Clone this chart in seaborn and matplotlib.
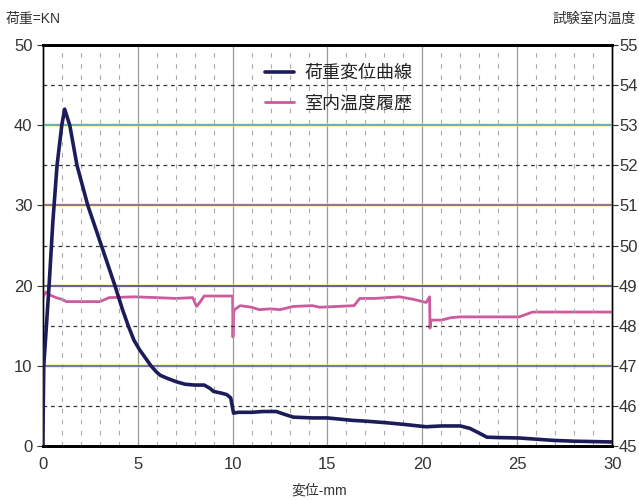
import matplotlib
matplotlib.use("Agg")
import matplotlib.pyplot as plt
import numpy as np
import pandas as pd
import seaborn as sns
from matplotlib.ticker import MultipleLocator

sns.set_style('white')
plt.rcParams['font.family'] = ['Liberation Sans', 'Noto Sans CJK JP', 'DejaVu Sans']

# 荷重変位曲線 (変位 mm, 荷重 kN)
disp = [0, 0.05, 0.33, 0.53, 0.75, 1.0, 1.15, 1.42, 1.8, 2.37, 2.8, 3.3, 3.8, 4.2,
        4.5, 4.8, 5.1, 5.4, 5.7, 6.0, 6.2, 6.6, 7.05, 7.5, 8.0, 8.5, 8.8, 9.0,
        9.4, 9.7, 9.9, 10.05, 10.3, 11.0, 11.6, 12.3, 12.8, 13.2, 14.2, 15.0,
        16.3, 17.0, 18.1, 19.0, 20.2, 21.0, 22.0, 22.5, 23.0, 23.4, 24.0, 25.1,
        26.0, 26.9, 28.0, 30.0]
load = [0, 10, 20, 28, 35, 40, 42, 40, 35, 30, 27, 23.5, 20, 17,
        15, 13.2, 12, 11, 10, 9.2, 8.8, 8.4, 8.0, 7.7, 7.6, 7.6, 7.2, 6.8,
        6.6, 6.4, 6.0, 4.1, 4.2, 4.2, 4.3, 4.3, 3.9, 3.6, 3.5, 3.5,
        3.2, 3.1, 2.9, 2.7, 2.4, 2.5, 2.5, 2.2, 1.6, 1.1, 1.05, 1.0,
        0.85, 0.7, 0.6, 0.5]

# 室内温度履歴 (変位 mm, 温度)
disp_t = [0, 0.15, 0.4, 0.7, 1.0, 1.25, 2.0, 3.0, 3.3, 3.5, 4.8, 6.0, 7.0, 7.9,
          8.1, 8.3, 8.5, 9.0, 10.0, 10.02, 10.05, 10.1, 10.4, 11.0, 11.4, 12.0,
          12.5, 13.2, 14.2, 14.6, 15.5, 16.4, 16.7, 17.5, 18.8, 19.5, 20.2,
          20.38, 20.4, 20.45, 21.0, 21.5, 22.0, 25.1, 25.8, 30.0]
temp = [48.70, 48.84, 48.76, 48.70, 48.66, 48.60, 48.60, 48.60, 48.66, 48.70,
        48.72, 48.70, 48.68, 48.70, 48.48, 48.60, 48.74, 48.74, 48.74, 47.72,
        48.30, 48.40, 48.50, 48.46, 48.40, 48.42, 48.40, 48.48, 48.50, 48.46,
        48.48, 48.50, 48.68, 48.68, 48.72, 48.66, 48.58, 48.72, 47.94, 48.14,
        48.14, 48.20, 48.22, 48.22, 48.34, 48.34]

df_load = pd.DataFrame({'disp': disp, 'load': load})
df_temp = pd.DataFrame({'disp': disp_t, 'temp': temp})

fig = plt.figure(figsize=(6.39, 5.0), dpi=100)
ax = fig.add_axes([0.067, 0.108, 0.891, 0.802])
ax2 = ax.twinx()

ax.set_xlim(0, 30)
ax.set_ylim(0, 50)
ax2.set_ylim(45, 55)

# 目盛と格子
ax.xaxis.set_major_locator(MultipleLocator(5))
ax.xaxis.set_minor_locator(MultipleLocator(1))
ax.yaxis.set_major_locator(MultipleLocator(10))
ax.yaxis.set_minor_locator(MultipleLocator(5))
ax2.yaxis.set_major_locator(MultipleLocator(1))

for v in range(1, 30):
    if v % 5 == 0:
        ax.axvline(v, color='#999999', lw=0.9, zorder=0)
    else:
        ax.axvline(v, color='#aaaaaa', lw=0.8, ls=(0, (4, 6)), zorder=0)
for h in [5, 15, 25, 35, 45]:
    ax.axhline(h, color='#333333', lw=0.9, ls=(0, (3, 3)), zorder=0)
hcols = {10: '#4a5aa8', 20: '#3a3a9a', 30: '#7a4a9a', 40: '#3aa0c8'}
for h, c in hcols.items():
    ax.axhline(h, color='#f3e98a', lw=3, zorder=0, alpha=0.6)
    ax.axhline(h, color=c, lw=1.1, zorder=0)

sns.lineplot(data=df_load, x='disp', y='load', ax=ax, color='#1c1c5a', lw=2.6,
             sort=False, estimator=None, label='荷重変位曲線', zorder=5)
sns.lineplot(data=df_temp, x='disp', y='temp', ax=ax2, color='#cc5a9e', lw=2.0,
             sort=False, estimator=None, label='室内温度履歴', zorder=4)

ax.set_zorder(ax2.get_zorder() + 1)
ax.patch.set_visible(False)

h1, l1 = ax.get_legend_handles_labels()
h2, l2 = ax2.get_legend_handles_labels()
if ax2.get_legend():
    ax2.get_legend().remove()
leg = ax.legend(h1 + h2, l1 + l2, loc='upper center', bbox_to_anchor=(0.52, 0.99),
                frameon=False, fontsize=13, handlelength=1.6, handletextpad=0.6,
                labelspacing=0.75)
for t in leg.get_texts():
    t.set_color('#222222')

ax.set_xlabel('')
ax.set_ylabel('')
ax2.set_ylabel('')

for a in (ax, ax2):
    for s in a.spines.values():
        s.set_color('black')
        s.set_linewidth(1.0)
    a.spines['top'].set_linewidth(2.0)
    a.spines['bottom'].set_linewidth(2.0)

ax.tick_params(axis='both', which='major', labelsize=12, labelcolor='#333333',
               direction='out', length=4, color='#333333')
ax.tick_params(axis='x', which='minor', length=0)
ax.tick_params(axis='y', which='minor', length=0)
ax.tick_params(axis='x', pad=4)
ax2.tick_params(axis='y', labelsize=12, labelcolor='#333333', direction='out',
                length=4, color='#333333', pad=1)

fig.text(0.008, 0.962, '荷重=KN', fontsize=10, color='#333333', ha='left', va='center')
fig.text(0.995, 0.962, '試験室内温度', fontsize=10, color='#333333', ha='right', va='center')
fig.text(0.5, 0.018, '変位-mm', fontsize=10, color='#333333', ha='center', va='center')

fig.savefig('out.png', dpi=100)
